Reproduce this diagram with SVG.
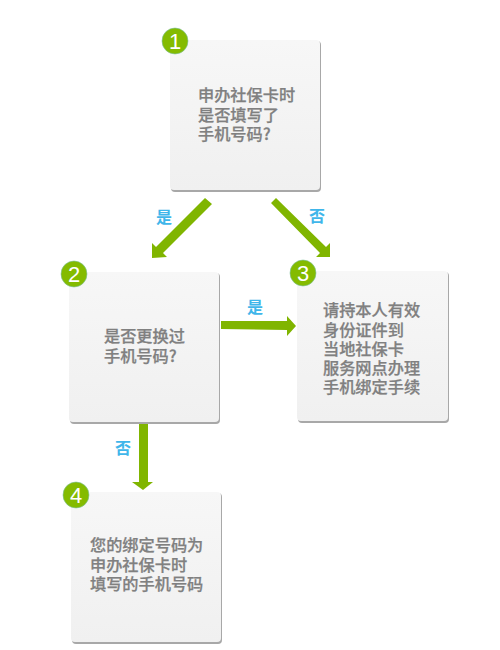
<svg xmlns="http://www.w3.org/2000/svg" width="500" height="650" viewBox="0 0 500 650">
<style>
.box{fill:url(#bg)}
.sh{fill:#a8a8a8}
.t{font-family:"Noto Sans CJK SC","Liberation Sans",sans-serif;font-size:16.2px;font-weight:500;fill:#808080;stroke:#808080;stroke-width:.25}
.l{font-family:"Noto Sans CJK SC","Liberation Sans",sans-serif;font-size:16px;font-weight:700;fill:#3fb6ea;text-anchor:middle}
.c{fill:#84bb00;stroke:#7cc0a0;stroke-width:.6}
.n{font-family:"Liberation Sans",sans-serif;font-size:22px;fill:#fff;text-anchor:middle}
.a{fill:#80b500}
</style>
<defs>
<linearGradient id="bg" x1="0" y1="0" x2="0" y2="1"><stop offset="0" stop-color="#f7f7f7"/><stop offset="1" stop-color="#f0f0f0"/></linearGradient>
</defs>
<rect width="500" height="650" fill="#fff"/>
<g id="connectors">
<polygon class="a" points="205,198 212,204 163,253 167,257 152,258 152,243 156,247"/>
<polygon class="a" points="271,203 276,198 326,247 330,243 330,257 316,257 320,253"/>
<polygon class="a" points="221,321 287,321 287,316 296,326 287,336 287,330 221,329"/>
<polygon class="a" points="139,424 148,424 148,482 153,482 143,490 132,482 139,482"/>
<text class="l" x="164" y="223">是</text>
<text class="l" x="317" y="222">否</text>
<text class="l" x="255" y="313">是</text>
<text class="l" x="123" y="454">否</text>
</g>
<g id="node1">
<rect class="sh" x="171" y="41" width="150" height="151" rx="4"/>
<rect class="box" x="170" y="40" width="150" height="150" rx="4"/>
<text class="t"><tspan x="198" y="101">申办社保卡时</tspan><tspan x="198" y="120.500">是否填写了</tspan><tspan x="198" y="140">手机号码?</tspan></text>
<circle class="c" cx="175" cy="41" r="13"/>
<text class="n" x="175" y="48.500">1</text>
</g>
<g id="node2">
<rect class="sh" x="70" y="273" width="150" height="151" rx="4"/>
<rect class="box" x="69" y="272" width="150" height="150" rx="4"/>
<text class="t"><tspan x="104" y="342">是否更换过</tspan><tspan x="104" y="362">手机号码?</tspan></text>
<circle class="c" cx="74" cy="274" r="13"/>
<text class="n" x="74" y="281.500">2</text>
</g>
<g id="node3">
<rect class="sh" x="298" y="272" width="151" height="151" rx="4"/>
<rect class="box" x="297" y="271" width="151" height="150" rx="4"/>
<text class="t"><tspan x="323" y="316">请持本人有效</tspan><tspan x="323" y="335.500">身份证件到</tspan><tspan x="323" y="355">当地社保卡</tspan><tspan x="323" y="374">服务网点办理</tspan><tspan x="323" y="393">手机绑定手续</tspan></text>
<circle class="c" cx="303" cy="273" r="13"/>
<text class="n" x="303" y="280.500">3</text>
</g>
<g id="node4">
<rect class="sh" x="72" y="493" width="150" height="151" rx="4"/>
<rect class="box" x="71" y="492" width="150" height="150" rx="4"/>
<text class="t"><tspan x="90" y="551">您的绑定号码为</tspan><tspan x="90" y="570.500">申办社保卡时</tspan><tspan x="90" y="590">填写的手机号码</tspan></text>
<circle class="c" cx="76" cy="495" r="13"/>
<text class="n" x="76" y="502.500">4</text>
</g>
</svg>
